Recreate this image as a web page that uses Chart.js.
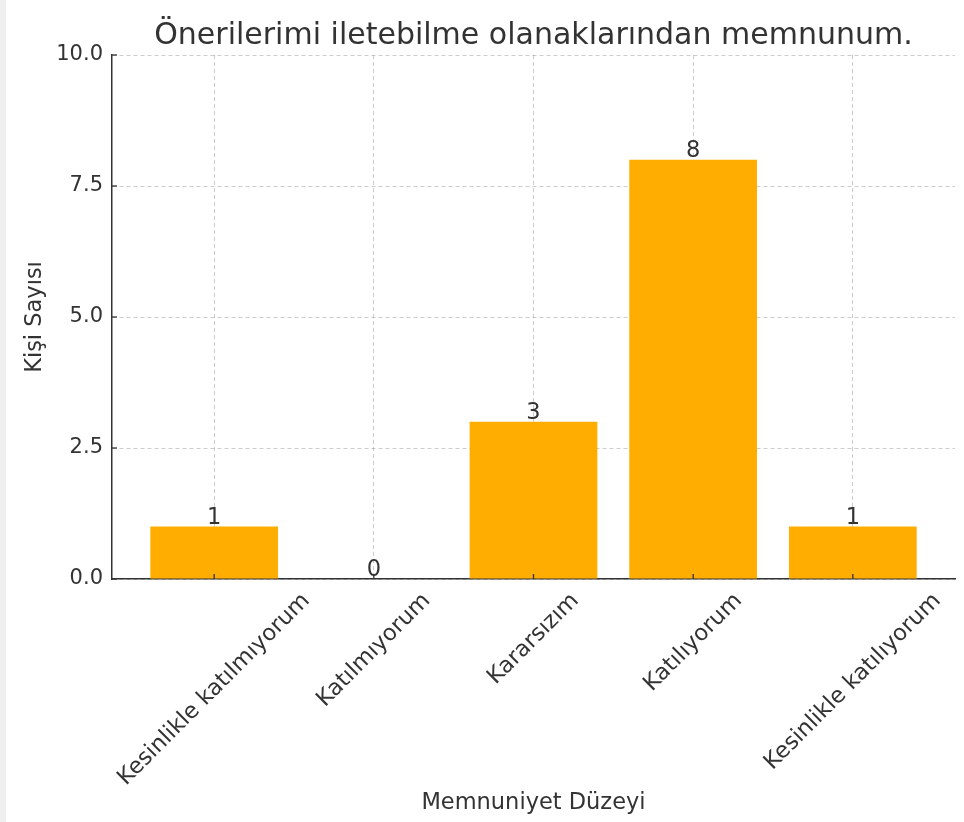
<!DOCTYPE html>
<html><head><meta charset="utf-8">
<script src="https://cdn.jsdelivr.net/npm/chart.js@4.4.0/dist/chart.umd.min.js"></script>
<style>
html,body{margin:0;padding:0;background:#fff;}
body{width:964px;height:822px;overflow:hidden;position:relative;}
#wrap{position:absolute;left:0;top:0;width:964px;height:822px;}
#strip{position:absolute;left:0;top:0;width:6px;height:822px;background:#efefef;}
</style></head><body>
<div id="wrap"><canvas id="c" width="964" height="822"></canvas></div>
<div id="strip"></div>
<script>
const categories = ['Kesinlikle katılmıyorum', 'Katılmıyorum', 'Kararsızım', 'Katılıyorum', 'Kesinlikle katılıyorum'];
const counts = [1, 0, 3, 8, 1];
const yTickValues = [0, 2.5, 5, 7.5, 10];
const chartTitle = 'Önerilerimi iletebilme olanaklarından memnunum.';
const xTitle = 'Memnuniyet Düzeyi';
const yTitle = 'Kişi Sayısı';

const FONT = "'DejaVu Sans', sans-serif";
const TEXT = '#333333';
const LABEL_SIZE = 22.5;

const overlay = {
  id: 'overlay',
  afterDraw(chart) {
    const ctx = chart.ctx;
    const xs = chart.scales.x, ys = chart.scales.y;
    const area = chart.chartArea;
    ctx.save();
    // inward ticks
    ctx.strokeStyle = TEXT; ctx.lineWidth = 1.3;
    categories.forEach((c, i) => {
      const px = xs.getPixelForValue(i);
      ctx.beginPath(); ctx.moveTo(px, area.bottom); ctx.lineTo(px, area.bottom - 5); ctx.stroke();
    });
    yTickValues.forEach(v => {
      const py = ys.getPixelForValue(v);
      ctx.beginPath(); ctx.moveTo(area.left, py); ctx.lineTo(area.left + 5, py); ctx.stroke();
    });
    // rotated category labels, centred under the tick
    ctx.fillStyle = TEXT;
    ctx.font = LABEL_SIZE + 'px ' + FONT;
    ctx.textAlign = 'center'; ctx.textBaseline = 'middle';
    const h = LABEL_SIZE * 1.164;
    categories.forEach((c, i) => {
      const px = xs.getPixelForValue(i);
      const w = ctx.measureText(c).width;
      const W = (w + h) / Math.SQRT2;
      const cy = area.bottom + 9 + W / 2;
      ctx.save();
      ctx.translate(px, cy);
      ctx.rotate(-Math.PI / 4);
      ctx.fillText(c, 0, 0);
      ctx.restore();
    });
    // value labels
    ctx.font = '22.5px ' + FONT;
    ctx.textBaseline = 'alphabetic';
    counts.forEach((v, i) => {
      const px = xs.getPixelForValue(i);
      const py = ys.getPixelForValue(v);
      ctx.fillText(String(v), px, py - 3);
    });
    ctx.restore();
  }
};

new Chart(document.getElementById('c'), {
  type: 'bar',
  data: {
    datasets: [{
      data: counts.map((v, i) => ({ x: i, y: v })),
      backgroundColor: '#FFAD00',
      borderWidth: 0,
      barPercentage: 0.8,
      categoryPercentage: 1
    }]
  },
  options: {
    responsive: false,
    animation: false,
    layout: { padding: { left: 6, right: 9, top: 0, bottom: 0 } },
    plugins: {
      legend: { display: false },
      tooltip: { enabled: false },
      title: {
        display: true, text: chartTitle, fullSize: false, color: TEXT,
        font: { family: FONT, size: 30, weight: 'normal' },
        padding: { top: 18, bottom: 1 }
      }
    },
    scales: {
      x: {
        type: 'linear', min: -0.64, max: 4.64, z: 1, offset: false,
        afterBuildTicks: s => { s.ticks = categories.map((c, i) => ({ value: i })); },
        afterFit: s => { s.height = 243; },
        ticks: { display: false },
        grid: { color: 'rgba(110,110,110,0.35)', lineWidth: 1, drawTicks: false, offset: false },
        border: { display: true, color: TEXT, width: 1.5, dash: [4, 3] },
        title: { display: true, text: xTitle, color: TEXT, font: { family: FONT, size: 22.5 }, padding: { top: 0, bottom: 5.5 } }
      },
      y: {
        min: 0, max: 10, z: 1,
        afterBuildTicks: s => { s.ticks = yTickValues.map(v => ({ value: v })); },
        afterFit: s => { s.width = 106; },
        ticks: { color: TEXT, font: { family: FONT, size: 21 }, padding: 9, callback: v => Number(v).toFixed(1) },
        grid: { color: 'rgba(110,110,110,0.35)', lineWidth: 1, drawTicks: false },
        border: { display: true, color: TEXT, width: 1.5, dash: [4, 3] },
        title: { display: true, text: yTitle, color: TEXT, font: { family: FONT, size: 22.5 }, padding: { top: 15.5, bottom: 0 } }
      }
    }
  },
  plugins: [overlay]
});
</script>
</body></html>
